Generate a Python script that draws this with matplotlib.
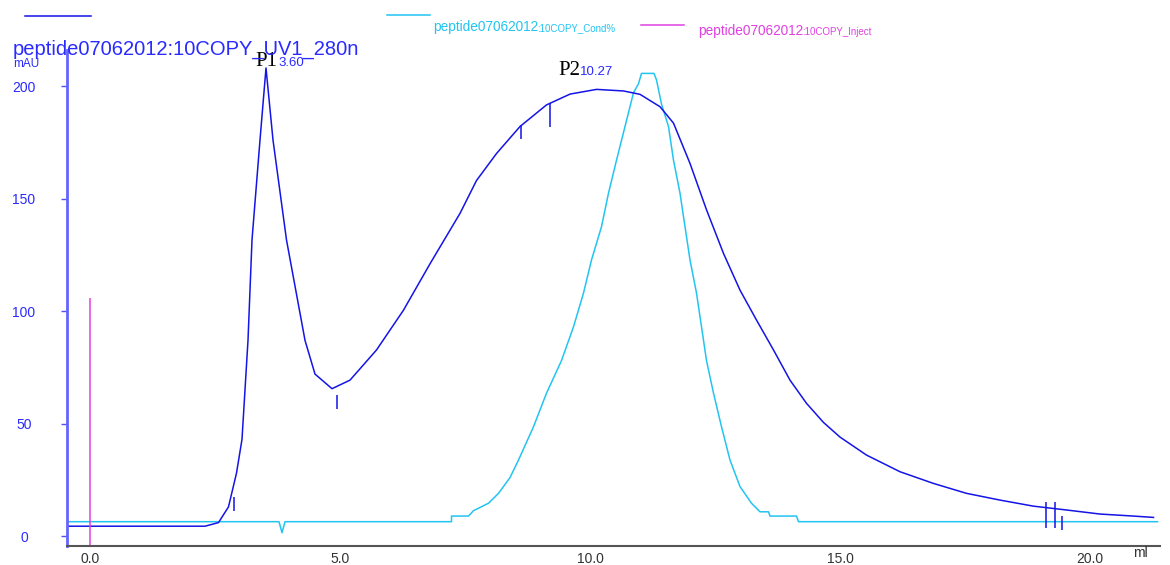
import matplotlib
matplotlib.use("Agg")
import matplotlib.pyplot as plt
from matplotlib.lines import Line2D

# UV 280 nm trace (ml, mAU)
uv_ml = [-0.46, 2.30, 2.57, 2.77, 2.93, 3.04, 3.16, 3.24, 3.40, 3.52, 3.66, 3.93,
         4.30, 4.50, 4.84, 5.20, 5.73, 6.27, 6.80, 7.40, 7.73, 8.13, 8.60, 9.13,
         9.60, 10.13, 10.67, 11.00, 11.40, 11.67, 12.00, 12.33, 12.67, 13.00, 13.33,
         13.67, 14.00, 14.33, 14.67, 15.00, 15.53, 16.20, 16.87, 17.53, 18.20,
         18.87, 19.53, 20.20, 20.87, 21.27]
uv_mau = [4.4, 4.4, 6, 13, 28, 43, 87, 131.6, 176, 208, 176, 131.6,
          87, 72, 65.5, 69.3, 82.7, 100.4, 121, 143.4, 158, 170, 182, 191.6,
          196.4, 198.5, 197.8, 196.3, 190.8, 183.5, 165.6, 145, 125.6, 109.3, 96,
          82.7, 69.3, 59, 50.5, 44, 36, 28.6, 23.4, 19, 16,
          13.3, 11.6, 9.8, 8.9, 8.3]

# Conductivity trace (drawn on the mAU scale)
cond_ml = [-0.46, 3.78, 3.84, 3.90, 7.23, 7.23, 7.57, 7.67, 7.97, 8.17, 8.40, 8.57,
           8.87, 9.13, 9.43, 9.67, 9.87, 10.03, 10.23, 10.37, 10.53, 10.70, 10.87,
           10.97, 11.03, 11.28, 11.33, 11.43, 11.57, 11.67, 11.80, 11.90, 12.00,
           12.13, 12.23, 12.33, 12.47, 12.63, 12.80, 13.00, 13.23, 13.40, 13.57,
           13.60, 14.13, 14.17, 21.35]
cond_val = [6.4, 6.4, 1.5, 6.4, 6.4, 8.9, 8.9, 11.3, 14.6, 19, 26, 33.8,
            48.6, 63.5, 78, 93, 108, 122.7, 137.5, 152.4, 167, 182, 197,
            201, 205.6, 205.6, 202.7, 192, 182, 167, 152.4, 137.5, 122.7,
            108, 93, 78, 63.5, 48.6, 33.8, 22, 14.6, 10.8, 10.8,
            8.9, 8.9, 6.4, 6.4]

# Injection mark
inject_ml = 0.0
inject_top = 106

# fraction / event marks on UV trace
mark_ml = [2.88, 4.94, 8.62, 9.19, 19.12, 19.29, 19.43]
mark_top = [17.3, 62.7, 182.7, 192.3, 15.3, 15.3, 9.0]
mark_bot = [11.1, 56.4, 176.3, 181.6, 3.4, 3.4, 2.7]

# peaks
peak_names = ["P1", "P2"]
peak_ret = ["3.60", "10.27"]
peak_x = [3.30, 9.36]
peak_y = [209, 205]

yticks = [0, 50, 100, 150, 200]
xticks = [0, 5, 10, 15, 20]

UV = "#1414e6"
COND = "#22c4f2"
INJ = "#e040e0"
TXT_BLUE = "#2a2aff"

plt.rcParams["font.family"] = ["Liberation Sans", "DejaVu Sans"]

fig = plt.figure(figsize=(11.7, 5.65), dpi=100)
W, H = 1170, 565
ax = fig.add_axes([67 / W, (H - 546) / H, (1160 - 67) / W, (546 - 50) / H])

ax.plot(cond_ml, cond_val, color=COND, lw=1.1)
ax.plot(uv_ml, uv_mau, color=UV, lw=1.1)
ax.vlines([inject_ml], -4.4, inject_top, color=INJ, lw=1.1)
ax.vlines(mark_ml, mark_bot, mark_top, color=UV, lw=1.1)

ax.set_xlim(-0.46, 21.4)
ax.set_ylim(-4.4, 216)
ax.set_xticks(xticks)
ax.set_xticklabels([f"{v:.1f}" for v in xticks])
ax.set_yticks(yticks)
ax.set_yticklabels([str(v) for v in yticks])

for s in ["top", "right"]:
    ax.spines[s].set_visible(False)
ax.spines["left"].set_color("#6464ff")
ax.spines["left"].set_linewidth(2)
ax.spines["bottom"].set_color("#555555")
ax.spines["bottom"].set_linewidth(1.5)

ax.tick_params(axis="y", length=4, width=1, color="#5050ff", labelcolor=TXT_BLUE,
               labelsize=10, pad=27)
for lab in ax.get_yticklabels():
    lab.set_horizontalalignment("center")
ax.tick_params(axis="x", length=0, labelcolor="#333333", labelsize=10, pad=4)
ax.text(21.0, -4.4, "ml", ha="center", va="top", fontsize=10, color="#333333")

for name, ret, px, py in zip(peak_names, peak_ret, peak_x, peak_y):
    ax.text(px, py, name, family="Liberation Serif", fontsize=15, color="black",
            va="baseline", ha="left")
    ax.annotate(ret, xy=(px, py), xytext=(23 if name == "P1" else 22, 0),
                textcoords="offset pixels", color=TXT_BLUE, fontsize=9.5,
                va="baseline", ha="left")

# header / legend
def fx(px):
    return px / W

def fy(py):
    return 1 - py / H

fig.text(fx(13), fy(55), "peptide07062012:10COPY_UV1_280n", color=TXT_BLUE,
         fontsize=14.5, va="baseline")
fig.text(fx(13), fy(67), "mAU", color=TXT_BLUE, fontsize=8.5, va="baseline")

fig.add_artist(Line2D([fx(25), fx(91)], [fy(16), fy(16)], color=UV, lw=1.1))
fig.add_artist(Line2D([fx(387), fx(430)], [fy(15), fy(15)], color=COND, lw=1.1))
fig.add_artist(Line2D([fx(641), fx(684)], [fy(25), fy(25)], color=INJ, lw=1.1))

fig.text(fx(433), fy(31), "peptide07062012", color=COND, fontsize=9.8,
         va="baseline")
fig.text(fx(537), fy(31), ":10COPY_Cond%", color=COND, fontsize=7,
         va="baseline")
fig.text(fx(698), fy(35), "peptide07062012", color=INJ, fontsize=9.8,
         va="baseline")
fig.text(fx(802), fy(35), ":10COPY_Inject", color=INJ, fontsize=7,
         va="baseline")

fig.savefig("out.png", dpi=100, facecolor="white")
